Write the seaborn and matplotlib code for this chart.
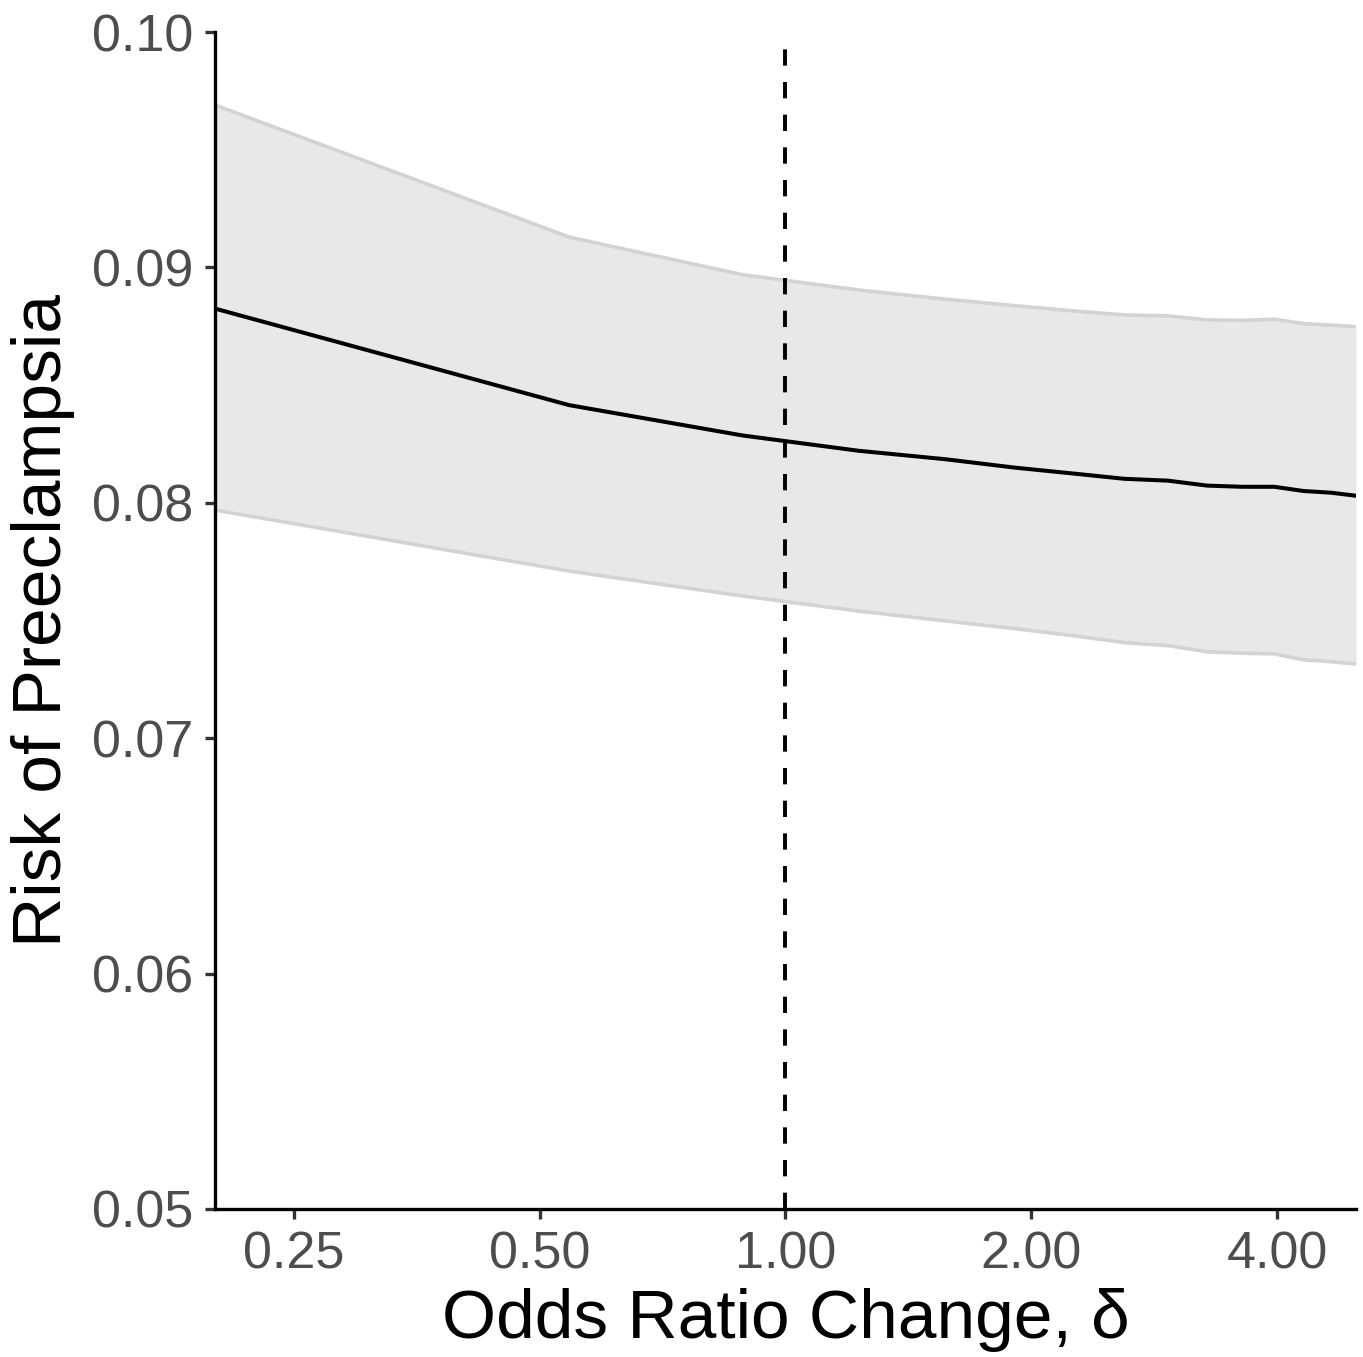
import numpy as np
import pandas as pd
import matplotlib
matplotlib.use("Agg")
import matplotlib.pyplot as plt
import seaborn as sns

# odds ratio change grid and estimated risk with band
delta = [0.2, 0.543, 0.886, 1.229, 1.571, 1.914, 2.257, 2.6, 2.943,
         3.286, 3.629, 3.971, 4.314, 4.657, 5.0]
risk = [0.08825, 0.08415, 0.08286, 0.08221, 0.08185, 0.08149, 0.08124, 0.08102,
        0.08094, 0.08073, 0.08068, 0.08068, 0.08050, 0.08043, 0.08030]
upper = [0.09690, 0.09129, 0.08969, 0.08904, 0.08865, 0.08837, 0.08815, 0.08798,
         0.08794, 0.08777, 0.08775, 0.08780, 0.08761, 0.08755, 0.08748]
lower = [0.07969, 0.07710, 0.07604, 0.07540, 0.07498, 0.07465, 0.07435, 0.07406,
         0.07393, 0.07367, 0.07361, 0.07358, 0.07333, 0.07325, 0.07315]

x_ticks = [0.25, 0.5, 1, 2, 4]
x_labels = ["0.25", "0.50", "1.00", "2.00", "4.00"]
y_ticks = [0.05, 0.06, 0.07, 0.08, 0.09, 0.10]
y_labels = ["0.05", "0.06", "0.07", "0.08", "0.09", "0.10"]
ref_delta = 1.0

df = pd.DataFrame({"delta": delta, "risk": risk, "upper": upper, "lower": lower})

sns.set_theme(style="ticks")
plt.rcParams['font.family'] = ['Liberation Sans', 'DejaVu Sans']

W, H = 1363, 1357
fig = plt.figure(figsize=(W / 100, H / 100), dpi=100)
ax = fig.add_axes([215 / W, 1 - 1209 / H, (1356 - 215) / W, (1209 - 32) / H])

ax.fill_between(df["delta"], df["lower"], df["upper"], color="#e8e8e8", lw=0, zorder=1)
sns.lineplot(data=df, x="delta", y="upper", color="#d3d3d3", lw=2.6, ax=ax, zorder=2)
sns.lineplot(data=df, x="delta", y="lower", color="#d3d3d3", lw=2.6, ax=ax, zorder=2)
sns.lineplot(data=df, x="delta", y="risk", color="black", lw=2.9, ax=ax, zorder=3)
ax.axvline(ref_delta, ymin=0, ymax=(0.09945 - 0.05) / 0.05, color="black",
           lw=2.8, dashes=(4.2, 4.2), zorder=4)

ax.set_xscale("log", base=2)
ax.set_xlim(0.2, 5.0)
ax.set_ylim(0.05, 0.10)
ax.set_xticks(x_ticks)
ax.set_xticklabels(x_labels)
ax.minorticks_off()
ax.set_yticks(y_ticks)
ax.set_yticklabels(y_labels)

for side in ["top", "right"]:
    ax.spines[side].set_visible(False)
for side in ["left", "bottom"]:
    ax.spines[side].set_linewidth(2.4)
    ax.spines[side].set_color("black")

ax.tick_params(axis="both", length=7.5, width=2.4, color="#333333",
               labelsize=37.5, labelcolor="#4d4d4d", pad=8)
ax.set_xlabel("Odds Ratio Change, δ", fontsize=50, color="black", labelpad=6)
ax.set_ylabel("Risk of Preeclampsia", fontsize=50, color="black", labelpad=12)

fig.savefig("out.png", dpi=100)
